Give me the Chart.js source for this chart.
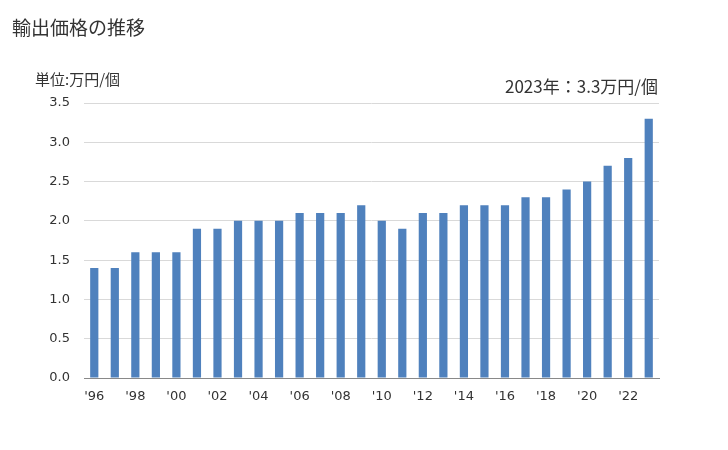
<!DOCTYPE html>
<html>
<head>
<meta charset="utf-8">
<script src="https://cdn.jsdelivr.net/npm/chart.js@4"></script>
<style>
  html, body { margin: 0; padding: 0; background: #fff; }
  #wrap { position: relative; width: 728px; height: 450px; }
</style>
</head>
<body>
<div id="wrap"><canvas id="priceChart" width="728" height="450"></canvas></div>
<script>
const years = ["'96","'97","'98","'99","'00","'01","'02","'03","'04","'05","'06","'07","'08","'09",
               "'10","'11","'12","'13","'14","'15","'16","'17","'18","'19","'20","'21","'22","'23"];
const prices = [1.4, 1.4, 1.6, 1.6, 1.6, 1.9, 1.9, 2.0, 2.0, 2.0, 2.1, 2.1, 2.1, 2.2,
                2.0, 1.9, 2.1, 2.1, 2.2, 2.2, 2.2, 2.3, 2.3, 2.4, 2.5, 2.7, 2.8, 3.3];
const yTicks = [0, 0.5, 1.0, 1.5, 2.0, 2.5, 3.0, 3.5];

const title = "輸出価格の推移";
const unitText = "単位:万円/個";
const latestText = "2023年：3.3万円/個";

const jpFont = "'Noto Sans CJK JP', 'Noto Sans', sans-serif";

const textPlugin = {
    id: "texts",
    afterDraw(chart) {
        const c = chart.ctx;
        c.save();
        c.fillStyle = "#333";
        c.textBaseline = "middle";
        c.font = "19px " + jpFont;
        c.textAlign = "left";
        c.fillText(title, 12, 28);
        c.font = "15px " + jpFont;
        c.fillText(unitText, 35, 79);
        c.font = "17px " + jpFont;
        c.textAlign = "right";
        c.fillText(latestText, 658, 87);
        c.restore();
    }
};

const ctx = document.getElementById("priceChart").getContext("2d");

new Chart(ctx, {
    type: "bar",
    data: {
        labels: years,
        datasets: [{
            data: prices,
            backgroundColor: "#4f81bd",
            categoryPercentage: 1,
            barPercentage: 0.4
        }]
    },
    options: {
        responsive: false,
        animation: false,
        layout: { padding: { top: 103, right: 69, left: 0, bottom: 0 } },
        plugins: {
            legend: { display: false },
            tooltip: { enabled: false }
        },
        scales: {
            x: {
                afterFit: s => { s.height = 72; },
                grid: { display: false, drawTicks: false },
                border: { color: "#898989", width: 1 },
                ticks: {
                    color: "#333",
                    font: { family: "'DejaVu Sans', sans-serif", size: 13 },
                    padding: 11,
                    maxRotation: 0,
                    autoSkip: false,
                    callback: function (val, i) { return i % 2 === 0 ? years[i] : ""; }
                }
            },
            y: {
                min: 0,
                max: 3.5,
                afterFit: s => { s.width = 84; },
                afterBuildTicks: s => { s.ticks = yTicks.map(v => ({ value: v })); },
                grid: { color: "#d9d9d9", drawTicks: false },
                border: { display: false },
                ticks: {
                    color: "#333",
                    font: { family: "'DejaVu Sans', sans-serif", size: 13 },
                    padding: 14,
                    callback: val => val.toFixed(1)
                }
            }
        }
    },
    plugins: [textPlugin]
});
</script>
</body>
</html>
